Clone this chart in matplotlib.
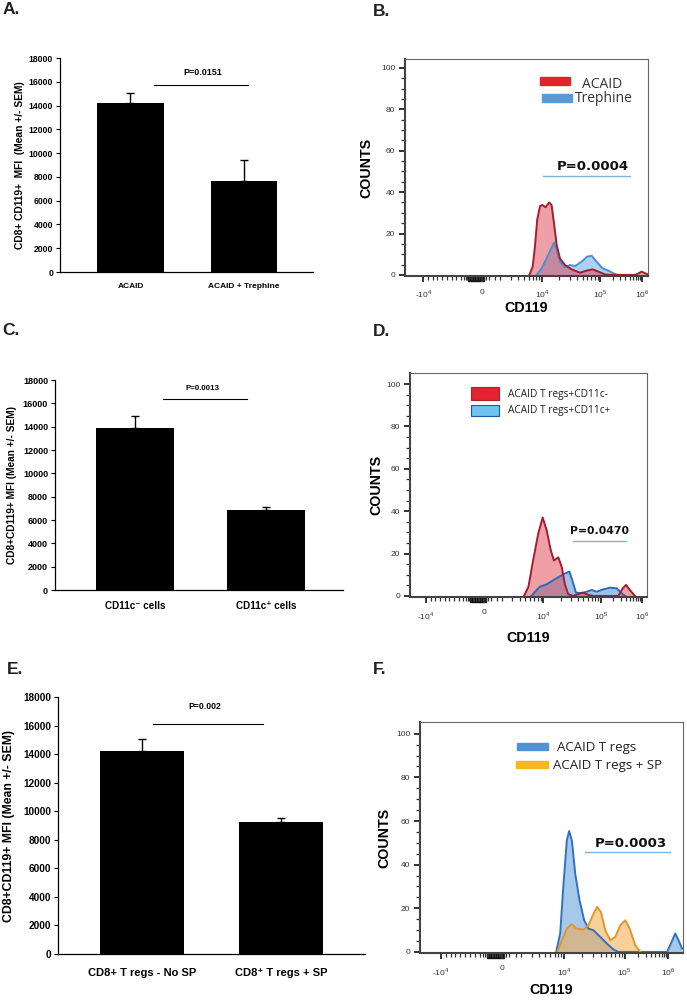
import matplotlib
matplotlib.use('Agg')
import matplotlib.pyplot as plt
from matplotlib.patches import Rectangle
import numpy as np

plt.rcParams['font.family'] = ['Liberation Sans', 'DejaVu Sans']
plt.rcParams['mathtext.fontset'] = 'custom'
plt.rcParams['mathtext.rm'] = 'Liberation Sans'

W, H = 687, 1000

# barras: media +/- SEM
a_groups = ['ACAID', 'ACAID + Trephine']
a_mean = [14200, 7650]
a_sem = [850, 1800]

c_groups = ['CD11c\u207b cells', 'CD11c\u207a cells']
c_mean = [13900, 6860]
c_sem = [1040, 290]

e_groups = ['CD8+ T regs - No SP', 'CD8\u207a T regs + SP']
e_mean = [14250, 9250]
e_sem = [830, 300]

y_ticks = [0, 2000, 4000, 6000, 8000, 10000, 12000, 14000, 16000, 18000]

# histogramas: x en decadas de la escala biexponencial (0 = "0", 1 = 10^4)
b_acaid_x = [0.79, 0.845, 0.883, 0.92, 0.967, 1.006, 1.06, 1.12, 1.16, 1.2, 1.245, 1.3, 1.383,
             1.495, 1.633, 1.745, 1.845, 1.94, 2.05, 2.16, 2.55, 2.61, 2.66, 2.745, 2.77]
b_acaid_y = [0, 4, 13.7, 26.6, 33.3, 33.8, 32.7, 35, 33.8, 25, 14.5, 8, 4.8,
             2.7, 1.1, 2.1, 2.7, 1.6, 0.3, 0, 0, 0.8, 1.6, 0.5, 0.3]
b_treph_x = [0.91, 0.995, 1.105, 1.2, 1.245, 1.3, 1.383, 1.467, 1.55, 1.66, 1.755, 1.83,
             1.91, 2.01, 2.105, 2.19, 2.27]
b_treph_y = [0, 3.2, 9.7, 15.6, 12, 6.4, 3.7, 4.8, 4.3, 6.4, 8.9, 9.2,
             6.4, 3.2, 2.1, 0.8, 0]

d_neg_x = [0.675, 0.75, 0.83, 0.916, 0.99, 1.057, 1.125, 1.18, 1.253, 1.31, 1.366, 1.42, 1.5,
           1.59, 1.664, 1.76, 1.84, 2.265, 2.34, 2.395, 2.46, 2.546]
d_neg_y = [0, 4.4, 17, 29.6, 37, 31, 21.7, 16.7, 18.2, 13.8, 5.2, 0.9, 0,
           0.9, 1.6, 0.5, 0, 0, 3.6, 5.2, 2.8, 0]
d_pos_x = [0.8, 0.86, 0.944, 1.057, 1.197, 1.337, 1.44, 1.495, 1.55, 1.647, 1.73, 1.816,
           1.9, 2.01, 2.125, 2.24, 2.305, 2.38]
d_pos_y = [0, 2, 4.4, 5.5, 7.9, 10.2, 11.5, 6.8, 1.6, 1.3, 2, 2.8,
           2, 3.1, 3.9, 3.6, 1.6, 0]

f_treg_x = [0.872, 0.936, 0.99, 1.043, 1.08, 1.123, 1.177, 1.246, 1.321, 1.39, 1.47, 1.578,
            1.685, 1.79, 1.87, 2.65, 2.71, 2.78, 2.835, 2.89]
f_treg_y = [0, 8.4, 31.3, 51.2, 55.4, 51.2, 35.9, 23.7, 14.5, 10.7, 9.9, 6.9,
            3.8, 1.1, 0, 0, 3.8, 8.4, 5.3, 1.5]
f_sp_x = [0.89, 0.963, 1.043, 1.123, 1.2, 1.31, 1.39, 1.46, 1.525, 1.59, 1.66, 1.74,
          1.82, 1.9, 1.98, 2.05, 2.14, 2.22]
f_sp_y = [0, 5.3, 10.7, 12.7, 10.7, 10.2, 12.2, 16.8, 20.6, 18.3, 9.9, 5.3,
          6.9, 12.2, 14.5, 10.7, 3, 0]

x_tick_pos = [-0.98, 0, 1, 1.97, 2.67]
x_tick_lab = [r'-10$^{4}$', '0', r'10$^{4}$', r'10$^{5}$', r'10$^{6}$']

fig = plt.figure(figsize=(W / 100, H / 100), dpi=100)


def box(l, t, r, b):
    return [l / W, 1 - b / H, (r - l) / W, (b - t) / H]


def ftext(x, y, s, **kw):
    fig.text(x / W, 1 - y / H, s, **kw)


def fpatch(l, t, r, b, **kw):
    fig.patches.append(Rectangle((l / W, 1 - b / H), (r - l) / W, (b - t) / H,
                                 transform=fig.transFigure, figure=fig, **kw))


def bar_panel(rect, groups, mean, sem, xlim, width, ylabel, ylab_x, fs_tick, fs_cat, fs_ylab,
              p_text, p_tx, p_ty, p_line, p_ly, fs_p, cat_pad):
    ax = fig.add_axes(box(*rect))
    x = np.arange(len(groups))
    ax.bar(x, mean, width, color='black', zorder=2)
    ax.errorbar(x, mean, yerr=[np.zeros(len(sem)), sem], fmt='none', ecolor='black',
                elinewidth=1, capsize=3, capthick=1, zorder=1)
    ax.set_ylim(0, 18000)
    ax.set_xlim(*xlim)
    ax.set_yticks(y_ticks, labels=[str(v) for v in y_ticks], fontsize=fs_tick, fontweight='bold')
    ax.set_xticks(x, labels=groups, fontsize=fs_cat, fontweight='bold')
    ax.tick_params(axis='x', length=0, pad=cat_pad)
    ax.tick_params(axis='y', length=3, width=0.8, pad=2)
    for s in ['top', 'right']:
        ax.spines[s].set_visible(False)
    for s in ['left', 'bottom']:
        ax.spines[s].set_linewidth(0.9)
    ax.set_ylabel(ylabel, fontsize=fs_ylab, fontweight='bold')
    ax.yaxis.set_label_coords(ylab_x, 0.5)
    ax.plot(p_line, [p_ly, p_ly], color='black', lw=0.8)
    ax.text(p_tx, p_ty, p_text, ha='center', va='center', fontsize=fs_p, fontweight='bold')
    return ax


def x_minor():
    m = list(np.linspace(-0.9, -0.35, 8))
    m += list(np.linspace(-0.3, 0.06, 14))
    m += [1 + np.log10(k / 10) for k in range(2, 10)]
    m += [0.12, 0.22]
    m += [1 + 0.97 * np.log10(k) for k in range(2, 10)]
    m += [1.97 + 0.7 * np.log10(k) for k in range(2, 10)]
    return m


def hist_panel(rect, xlim, ylim, curves, cnt_x, cd_y):
    ax = fig.add_axes(box(*rect))
    for xs, ys, face, edge, alpha in curves:
        ax.fill_between(xs, ys, 0, color=face, alpha=alpha, lw=0)
        ax.plot(xs, ys, color=edge, lw=1.4)
    ax.set_xlim(*xlim)
    ax.set_ylim(*ylim)
    ax.set_yticks(np.arange(0, 101, 20))
    ax.set_yticks(np.arange(0, 101, 5), minor=True)
    ax.set_xticks(x_tick_pos)
    ax.set_xticklabels(x_tick_lab)
    ax.set_xticks(x_minor(), minor=True)
    ax.tick_params(which='major', length=4, width=1.4, color='#333333',
                   labelsize=6, labelcolor='#333333', pad=3)
    ax.tick_params(axis='x', which='major', pad=5)
    ax.tick_params(which='minor', length=3, width=0.9, color='#333333')
    # bloque negro de marcas alrededor del 0
    hpx = (rect[3] - rect[1])
    ax.add_patch(Rectangle((-0.23, -5 / hpx), 0.27, 5 / hpx, transform=ax.get_xaxis_transform(),
                           color='#111111', clip_on=False))
    for s in ['left', 'bottom']:
        ax.spines[s].set_linewidth(1.5)
        ax.spines[s].set_color('#444444')
    for s in ['top', 'right']:
        ax.spines[s].set_linewidth(0.8)
        ax.spines[s].set_color('#666666')
    ax.set_ylabel('COUNTS', fontsize=10.3, fontweight='bold')
    ax.yaxis.set_label_coords(cnt_x, 0.5)
    ax.set_xlabel('CD119', fontsize=10.3, fontweight='bold')
    ax.xaxis.set_label_coords(0.5, cd_y)
    return ax


# ---- A ----
bar_panel((60, 58, 313, 272), a_groups, a_mean, a_sem, (-0.621, 1.608), 0.59,
          'CD8+ CD119+  MFI  (Mean +/- SEM)', -0.138, 6.2, 6.0, 7.4,
          'P=0.0151', 0.64, 16750, (0.207, 1.035), 15730, 6.5, 8)

# ---- C ----
bar_panel((55, 380, 343, 590), c_groups, c_mean, c_sem, (-0.61, 1.59), 0.595,
          'CD8+CD119+ MFI (Mean +/- SEM)', -0.132, 6.5, 7.1, 7.3,
          'P=0.0013', 0.52, 17300, (0.214, 0.855), 16370, 5.7, 8)

# ---- E ----
bar_panel((58, 697, 365, 954), e_groups, e_mean, e_sem, (-0.604, 1.60), 0.604,
          'CD8+CD119+ MFI (Mean +/- SEM)', -0.14, 7.2, 8.0, 8.8,
          'P=0.002', 0.45, 17300, (0.079, 0.87), 16090, 6.2, 10)

# ---- B ----
axb = hist_panel((405, 59, 648, 276), (-1.283, 2.767), (-0.5, 104.3),
                 [(b_treph_x, b_treph_y, '#6aaee6', '#4b8fd0', 0.55),
                  (b_acaid_x, b_acaid_y, '#e0404f', '#a31d2e', 0.5)],
                 -0.13, -0.115)
axb.plot([1.017, 2.467], [48, 48], color='#7fb3df', lw=1)
axb.text(1.85, 52.5, 'P=0.0004', ha='center', va='center', fontsize=9.5,
         fontweight='bold', family='DejaVu Sans', color='#111111')
fpatch(540, 77, 570, 85, color='#e3222f')
ftext(582, 84, 'ACAID', fontsize=10, va='center', family='Open Sans', color='#333333')
fpatch(542, 94, 572, 102, color='#5b9bd5')
ftext(575, 99, 'Trephine', fontsize=10, va='center', family='Open Sans', color='#333333')

# ---- D ----
axd = hist_panel((410, 373, 647, 597), (-1.248, 2.749), (-0.5, 105.2),
                 [(d_pos_x, d_pos_y, '#4f8fd0', '#2a6db5', 0.55),
                  (d_neg_x, d_neg_y, '#e0404f', '#a31d2e', 0.5)],
                 -0.114, -0.15)
axd.plot([1.506, 2.395], [26, 26], color='#7fb3df', lw=1)
axd.text(1.95, 30.5, 'P=0.0470', ha='center', va='center', fontsize=7.8,
         fontweight='bold', family='DejaVu Sans', color='#111111')
fpatch(471, 387, 499, 400, facecolor='#e5222f', edgecolor='#b01c28', lw=0.8)
ftext(508, 394, 'ACAID T regs+CD11c-', fontsize=7.3, va='center', family='Open Sans', color='#222222')
fpatch(471, 405, 499, 416, facecolor='#6ec3ef', edgecolor='#1f5a96', lw=0.8)
ftext(508, 410.5, 'ACAID T regs+CD11c+', fontsize=7.3, va='center', family='Open Sans', color='#222222')

# ---- F ----
axf = hist_panel((420, 722, 683, 953), (-1.311, 2.905), (-0.5, 105.4),
                 [(f_treg_x, f_treg_y, '#5b9bdc', '#2e73c0', 0.55),
                  (f_sp_x, f_sp_y, '#f5a94a', '#e0962e', 0.55)],
                 -0.11, -0.13)
axf.plot([1.337, 2.70], [45.7, 45.7], color='#7fb3df', lw=1)
axf.text(2.07, 49.5, 'P=0.0003', ha='center', va='center', fontsize=9.5,
         fontweight='bold', family='DejaVu Sans', color='#111111')
fpatch(517, 743, 548, 750, color='#4f93d6')
ftext(557, 747, 'ACAID T regs', fontsize=9.5, va='center', family='Open Sans', color='#222222')
fpatch(516, 761, 548, 768, color='#f6b71e')
ftext(553, 765, 'ACAID T regs + SP', fontsize=9.5, va='center', family='Open Sans', color='#222222')

# letras de panel
for lx, ly, lab in [(3, 2, 'A.'), (373, 4, 'B.'), (2, 323, 'C.'), (373, 324, 'D.'),
                    (7, 662, 'E.'), (373, 662, 'F.')]:
    ftext(lx, ly, lab, fontsize=12.5, va='top', ha='left', fontweight='bold', color='#222222')

fig.savefig('out.png', dpi=100, facecolor='white')
